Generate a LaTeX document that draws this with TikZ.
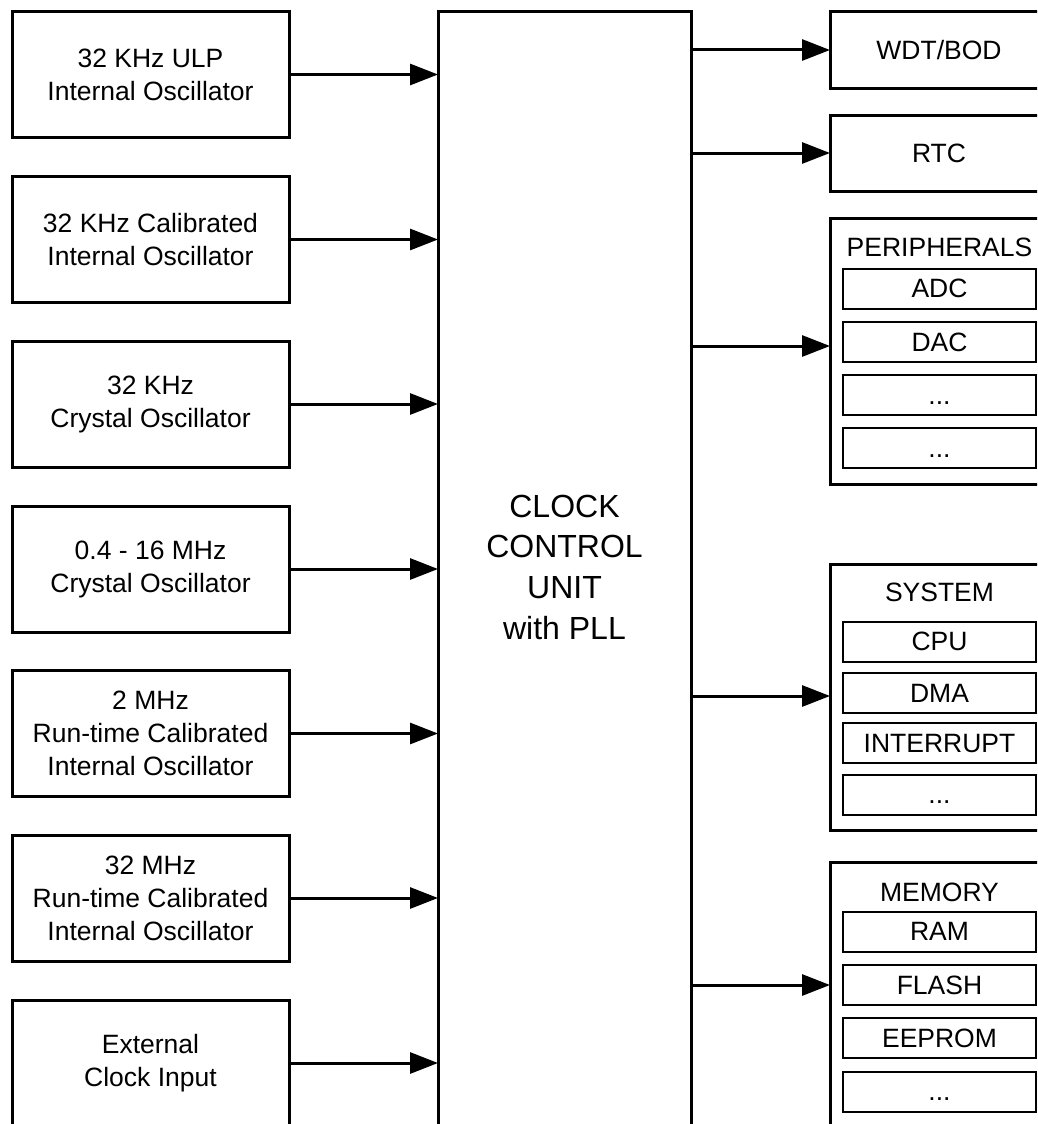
\documentclass[tikz,border=0pt]{standalone}
\usepackage{fontspec}
\setmainfont{Liberation Sans}
\usetikzlibrary{arrows.meta}

\begin{document}
\begin{tikzpicture}[
  x=1pt, y=-1pt,
  src/.style={draw, line width=3pt, minimum width=277pt, minimum height=126pt, inner sep=0pt, outer sep=0pt, align=center, font=\fontsize{26.5}{33}\selectfont},
  ccu/.style={draw, line width=3pt, minimum width=253pt, minimum height=1200pt, inner sep=0pt, outer sep=0pt},
  ccutext/.style={inner sep=0pt, align=center, font=\fontsize{32}{40.7}\selectfont},
  sink/.style={draw, line width=3pt, minimum width=218pt, minimum height=76pt, inner sep=0pt, outer sep=0pt, font=\fontsize{26.5}{33}\selectfont},
  group/.style={draw, line width=3pt, minimum width=218pt, inner sep=0pt, outer sep=0pt},
  title/.style={inner sep=0pt, font=\fontsize{26.5}{33}\selectfont},
  unit/.style={draw, line width=2pt, minimum width=193pt, minimum height=40pt, inner sep=0pt, outer sep=0pt, text height=18pt, text depth=0pt, font=\fontsize{26.5}{33}\selectfont},
  arr/.style={-{Triangle[length=28pt, width=21pt]}, line width=3pt},
]

\useasboundingbox (0,0) rectangle (1037,1124);
\clip (0,0) rectangle (1037,1124);

% Clock sources (left column)
\node[src] (ulp)    at (150.5,74.5)  {32 KHz ULP\\Internal Oscillator};
\node[src] (cal)    at (150.5,239.5) {32 KHz Calibrated\\Internal Oscillator};
\node[src] (xtal)   at (150.5,404)   {32 KHz\\Crystal Oscillator};
\node[src] (hfxtal) at (150.5,569)   {0.4 - 16 MHz\\Crystal Oscillator};
\node[src] (rctwo)  at (150.5,733.5) {2 MHz\\Run-time Calibrated\\Internal Oscillator};
\node[src] (rcfast) at (150.5,898)   {32 MHz\\Run-time Calibrated\\Internal Oscillator};
\node[src] (ext)    at (150.5,1063)  {External\\Clock Input};

% Clock control unit
\node[ccu, anchor=north] (ccu) at (564.5,12) {};
\node[ccutext] (ccutext) at (564.5,567) {CLOCK\\CONTROL\\UNIT\\with PLL};

% Clock consumers (right column)
\node[sink, anchor=north west] (wdt) at (830,12)  {WDT/BOD};
\node[sink, anchor=north west] (rtc) at (830,115) {RTC};

% Peripherals
\node[group, anchor=north west, minimum height=266pt] (periph) at (830,218) {};
\node[title] (periphtitle) at (939.5,247) {PERIPHERALS};
\node[unit] (adc)   at (939.5,288.5) {ADC};
\node[unit] (dac)   at (939.5,342)   {DAC};
\node[unit] (perx)  at (939.5,395)   {...};
\node[unit] (pery)  at (939.5,448)   {...};

% System
\node[group, anchor=north west, minimum height=266pt] (system) at (830,564) {};
\node[title] (systemtitle) at (939.5,592) {SYSTEM};
\node[unit] (cpu)  at (939.5,641.5) {CPU};
\node[unit] (dma)  at (939.5,693)   {DMA};
\node[unit] (irq)  at (939.5,743)   {INTERRUPT};
\node[unit] (sysx) at (939.5,794.5) {...};

% Memory
\node[group, anchor=north west, minimum height=300pt] (memory) at (830,862) {};
\node[title] (memorytitle) at (939.5,892) {MEMORY};
\node[unit] (ram)    at (939.5,931.5)  {RAM};
\node[unit] (flash)  at (939.5,985)    {FLASH};
\node[unit] (eeprom) at (939.5,1038)   {EEPROM};
\node[unit] (memx)   at (939.5,1091.5) {...};

% Arrow ends on the groups
\coordinate (periphin) at (830,346);
\coordinate (systemin) at (830,696);
\coordinate (memoryin) at (830,985);

% Arrows: sources -> ccu
\draw[arr] (ulp.east)    -- (ccu.west |- ulp.east);
\draw[arr] (cal.east)    -- (ccu.west |- cal.east);
\draw[arr] (xtal.east)   -- (ccu.west |- xtal.east);
\draw[arr] (hfxtal.east) -- (ccu.west |- hfxtal.east);
\draw[arr] (rctwo.east)  -- (ccu.west |- rctwo.east);
\draw[arr] (rcfast.east) -- (ccu.west |- rcfast.east);
\draw[arr] (ext.east)    -- (ccu.west |- ext.east);

% Arrows: ccu -> consumers
\draw[arr] (ccu.east |- wdt.west) -- (wdt.west);
\draw[arr] (ccu.east |- rtc.west) -- (rtc.west);
\draw[arr] (ccu.east |- periphin) -- (periphin);
\draw[arr] (ccu.east |- systemin) -- (systemin);
\draw[arr] (ccu.east |- memoryin) -- (memoryin);

\end{tikzpicture}
\end{document}
